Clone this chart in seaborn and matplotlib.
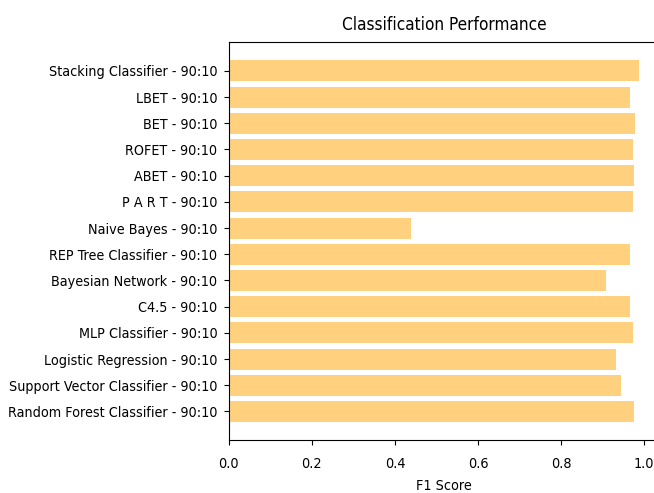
import matplotlib
matplotlib.use("Agg")
import matplotlib.pyplot as plt
from matplotlib import font_manager
from matplotlib.font_manager import FontProperties
import seaborn as sns
import pandas as pd

# Classifiers listed from top to bottom, all evaluated on a 90:10 split
models = [
    "Stacking Classifier",
    "LBET",
    "BET",
    "ROFET",
    "ABET",
    "P A R T",
    "Naive Bayes",
    "REP Tree Classifier",
    "Bayesian Network",
    "C4.5",
    "MLP Classifier",
    "Logistic Regression",
    "Support Vector Classifier",
    "Random Forest Classifier",
]
split = "90:10"
f1_scores = [0.988, 0.966, 0.978, 0.972, 0.975, 0.972, 0.439,
             0.966, 0.907, 0.966, 0.972, 0.933, 0.945, 0.976]

labels = [f"{m} - {split}" for m in models]
df = pd.DataFrame({"label": labels, "f1": f1_scores})

# Prefer a condensed sans face when one is installed
stretch = "normal"
family = "DejaVu Sans"
for entry in font_manager.fontManager.ttflist:
    if entry.name == "DejaVu Sans" and entry.stretch in ("condensed", "semi-condensed"):
        stretch = entry.stretch
        break
else:
    for entry in font_manager.fontManager.ttflist:
        if ("Condensed" in entry.name or "Narrow" in entry.name) and entry.style == "normal" \
                and entry.weight in (400, "normal", "regular"):
            family = entry.name
            break

plt.rcParams["font.family"] = [family, "DejaVu Sans"]
plt.rcParams["font.stretch"] = stretch

fig = plt.figure(figsize=(6.54, 4.93), dpi=100)

# Size the text so the longest category label fills the left margin
renderer = fig.canvas.get_renderer()
probe = FontProperties(family=[family, "DejaVu Sans"], stretch=stretch, size=10)
longest = max(labels, key=lambda s: renderer.get_text_width_height_descent(s, probe, ismath=False)[0])
w10 = renderer.get_text_width_height_descent(longest, probe, ismath=False)[0]
tick_size = 10 * 210.0 / w10
plt.rcParams["font.size"] = tick_size

ax = fig.add_axes([0.3497, 0.1075, 0.6592, 0.8067])

sns.barplot(data=df, x="f1", y="label", orient="h", color="orange",
            alpha=0.5, saturation=1, width=0.8, ax=ax)

ax.set_xlim(0, max(f1_scores) * 1.05)
ax.set_ylim(len(labels) - 1 + 1.09, -1.09)
ax.set_xticks([0.0, 0.2, 0.4, 0.6, 0.8, 1.0])
ax.tick_params(labelsize=tick_size)
ax.tick_params(axis="x", pad=9.0)
ax.tick_params(axis="y", pad=4.5)
ax.set_xlabel("F1 Score", fontsize=tick_size, labelpad=5.5)
ax.set_ylabel("")
ax.set_title("Classification Performance", fontsize=tick_size * 1.2, pad=8.5)

fig.savefig("out.png", dpi=100)
